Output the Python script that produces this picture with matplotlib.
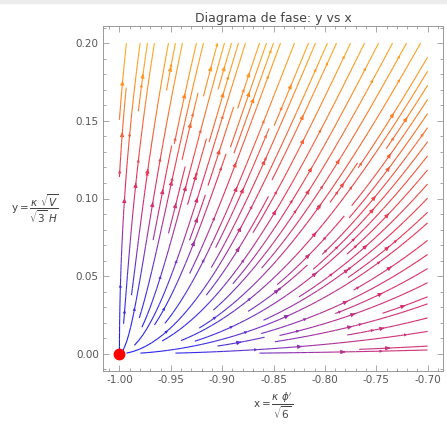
import numpy as np
import matplotlib
matplotlib.use('Agg')
import matplotlib.pyplot as plt
from matplotlib.colors import LinearSegmentedColormap
from matplotlib.patches import FancyArrowPatch
from matplotlib.ticker import MultipleLocator, FormatStrFormatter

plt.rcParams['axes.unicode_minus'] = False
plt.rcParams['mathtext.fontset'] = 'dejavusans'

# Exponential potential quintessence with a matter fluid
lam = 2.0             # potential slope
gamma = 1.0           # barotropic index of the fluid
x_range = (-1.0, -0.7)
y_range = (0.0005, 0.2)
fixed_point = (-1.0, 0.0)
x_ticks = [-1.00, -0.95, -0.90, -0.85, -0.80, -0.75, -0.70]
y_ticks = [0.00, 0.05, 0.10, 0.15, 0.20]

# Autonomous system
xs = np.linspace(x_range[0], x_range[1], 200)
ys = np.linspace(y_range[0], y_range[1], 200)
X, Y = np.meshgrid(xs, ys)
bracket = 2 * X**2 + gamma * (1 - X**2 - Y**2)
U = -3 * X + lam * np.sqrt(1.5) * Y**2 + 1.5 * X * bracket
V = -lam * np.sqrt(1.5) * X * Y + 1.5 * Y * bracket
speed = np.sqrt(U**2 + V**2)

cmap = LinearSegmentedColormap.from_list('stream', [
    (0.0, '#1e1ef2'), (0.2, '#3a2ee0'), (0.33, '#8030b8'), (0.45, '#c8307e'),
    (0.55, '#e4305a'), (0.68, '#f4583a'), (0.82, '#ff8a22'), (1.0, '#ffb422')])

fig = plt.figure(figsize=(4.47, 4.32), dpi=100)
fig.patches.append(plt.Rectangle((0, 1 - 3 / 432), 1, 3 / 432, transform=fig.transFigure,
                                 color='#ececec', zorder=0))
ax = fig.add_axes([103 / 447, 1 - 371 / 432, 340 / 447, 345 / 432])

sp = ax.streamplot(X, Y, U, V, color=speed, cmap=cmap, density=1.5, linewidth=0.8,
                   arrowsize=0.55, arrowstyle='-|>', minlength=0.15)

# extra small arrowheads spread along the streamlines
segs = sp.lines.get_segments()
seg_cols = sp.lines.to_rgba(sp.lines.get_array())
for i in range(10, len(segs), 22):
    (x0, y0), (x1, y1) = segs[i][0], segs[i][-1]
    if abs(x1 - x0) + abs(y1 - y0) == 0:
        continue
    ax.add_patch(FancyArrowPatch((x0, y0), (x1, y1), arrowstyle='-|>', mutation_scale=6,
                                 color=seg_cols[i], lw=0, shrinkA=0, shrinkB=0))

ax.plot(*fixed_point, 'o', color='red', ms=7.5, zorder=5, clip_on=False)

ax.set_xlim(-1.016, -0.685)
ax.set_ylim(-0.011, 0.211)
ax.set_xticks(x_ticks)
ax.set_yticks(y_ticks)
ax.xaxis.set_minor_locator(MultipleLocator(0.01))
ax.yaxis.set_minor_locator(MultipleLocator(0.01))
ax.xaxis.set_major_formatter(FormatStrFormatter('%.2f'))
ax.yaxis.set_major_formatter(FormatStrFormatter('%.2f'))
ax.tick_params(which='both', direction='in', top=True, right=True, color='#999999',
               labelsize=7.5, labelcolor='#555555', width=0.6)
ax.tick_params(which='major', length=4, pad=3)
ax.tick_params(which='minor', length=2)
for s in ax.spines.values():
    s.set_color('#999999')
    s.set_linewidth(0.7)

ax.set_title('Diagrama de fase: y vs x', fontsize=9, color='#444444', pad=3)
ax.set_xlabel(r"$\mathrm{x} = \dfrac{\kappa\ \phi'}{\sqrt{6}}$", fontsize=7.5, color='#444444',
              labelpad=4)
ax.set_ylabel(r"$\mathrm{y} = \dfrac{\kappa\ \sqrt{V}}{\sqrt{3}\ H}$", fontsize=7.5,
              color='#444444', rotation=0, ha='center', va='center')
ax.yaxis.set_label_coords(-0.2, 0.47)

fig.savefig('out.png', dpi=100)
